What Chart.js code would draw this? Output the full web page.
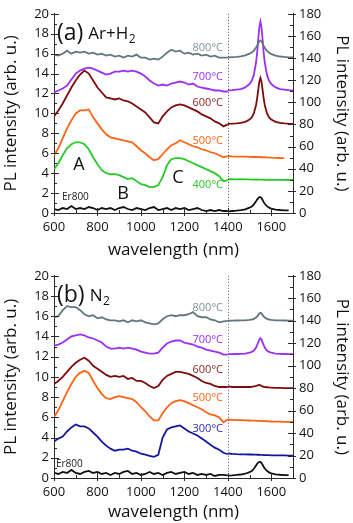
<!DOCTYPE html>
<html lang="en">
<head>
    <meta charset="UTF-8">
    <title>PL spectra Ar+H2 / N2</title>
    <script src="https://cdn.jsdelivr.net/npm/chart.js"></script>
    <style>
        body { margin: 0; background: #fff; }
        canvas { position: absolute; left: 0; }
        #chartA { top: 0; }
        #chartB { top: 262px; }
    </style>
</head>
<body>
    <canvas id="chartA" width="353" height="262"></canvas>
    <canvas id="chartB" width="353" height="261"></canvas>

    <script>
        // wavelengths (nm)
        const wlVis = [600, 620, 640, 660, 680, 700, 720, 740, 760, 780, 800, 820, 840, 860, 880, 900, 920, 940, 960, 980,
            1000, 1020, 1040, 1060, 1080, 1100, 1120, 1140, 1160, 1180, 1200, 1220, 1240, 1260, 1280, 1300, 1320, 1340, 1360, 1380, 1400];
        const wlIR = [1400, 1420, 1440, 1460, 1480, 1500, 1510, 1520, 1530, 1535, 1540, 1545, 1550, 1555, 1560, 1565, 1570,
            1580, 1590, 1600, 1620, 1640, 1660, 1680, 1700];

        const labelsA = ['800°C', '700°C', '600°C', '500°C', '400°C', 'Er800'];
        const labelsB = ['800°C', '700°C', '600°C', '500°C', '300°C', 'Er800'];

        // (a) Ar+H2, visible part (left axis)
        const aVis800 = [15.9, 15.8, 16.0, 16.3, 16.0, 16.2, 16.1, 16.2, 16.0, 16.1, 15.9, 16.0, 15.8, 15.9, 15.7, 15.8, 15.6, 15.8, 15.7, 15.9,
            15.6, 15.6, 15.4, 15.5, 15.4, 15.7, 16.1, 16.4, 16.2, 16.3, 16.0, 16.1, 15.9, 16.0, 15.8, 15.9, 15.7, 15.8, 15.6, 15.6, 15.6];
        const aVis700 = [12.1, 12.3, 12.5, 12.8, 13.4, 14.0, 14.3, 14.5, 14.6, 14.5, 14.3, 14.1, 13.9, 14.0, 14.2, 14.2, 14.3, 14.2, 14.3, 14.2,
            14.0, 13.7, 13.3, 13.0, 12.8, 12.9, 12.8, 13.0, 13.1, 13.2, 13.1, 12.9, 13.0, 12.7, 12.6, 12.5, 12.4, 12.3, 12.3, 12.2, 12.2];
        const aVis600 = [9.7, 10.3, 11.0, 11.8, 12.6, 13.3, 13.9, 14.3, 14.0, 13.3, 12.6, 12.1, 11.6, 11.5, 11.4, 11.5, 11.3, 11.2, 11.0, 10.7,
            10.4, 10.1, 9.6, 9.1, 9.0, 9.7, 10.2, 10.6, 10.8, 10.9, 10.8, 10.6, 10.4, 10.2, 9.9, 9.7, 9.5, 9.2, 9.0, 8.7, 8.9];
        const aVis500 = [5.8, 6.5, 7.5, 8.5, 9.3, 10.0, 10.3, 10.3, 10.4, 9.6, 9.0, 8.4, 7.9, 7.6, 7.5, 7.4, 7.3, 7.2, 7.1, 6.7,
            6.3, 6.0, 5.6, 5.3, 5.4, 5.9, 6.4, 6.8, 7.0, 7.3, 7.1, 6.9, 6.7, 6.6, 6.4, 6.3, 6.1, 6.0, 5.8, 5.6, 5.7];
        const aVis400 = [4.4, 5.0, 5.8, 6.5, 6.9, 7.1, 7.1, 6.9, 6.4, 5.6, 4.9, 4.3, 4.0, 3.9, 3.9, 3.8, 3.6, 3.4, 3.5, 3.2,
            2.9, 2.8, 2.6, 2.6, 2.8, 3.6, 4.8, 5.4, 5.5, 5.5, 5.4, 5.2, 5.0, 4.8, 4.6, 4.4, 4.2, 4.0, 3.7, 3.2, 3.3];
        const aVisEr = [0.4, 0.3, 0.5, 0.4, 0.7, 0.4, 0.5, 0.4, 0.6, 0.5, 0.3, 0.5, 0.4, 0.5, 0.3, 0.5, 0.6, 0.4, 0.3, 0.5,
            0.4, 0.3, 0.5, 0.6, 0.3, 0.4, 0.5, 0.3, 0.5, 0.4, 0.5, 0.3, 0.4, 0.5, 0.3, 0.2, 0.3, 0.2, 0.3, 0.2, 0.2];

        // (a) Ar+H2, infrared part (right axis)
        const aIR800 = [140.5, 140.8, 141, 141.5, 142.5, 144, 145, 146.8, 149.5, 151.3, 153.3, 155.2, 156, 155, 153, 151, 149.2,
            146.5, 144.8, 143.6, 142.2, 141.4, 141, 140.7, 140.5];
        const aIR700 = [110.8, 111, 111.5, 112, 113.5, 116.5, 119.5, 125, 136, 145, 157, 168, 173, 168, 157, 145, 136,
            125, 119.5, 116.5, 113.5, 112, 111.5, 111, 110.8];
        const aIR600 = [80.5, 80.7, 81, 81.4, 82.4, 84.4, 86.4, 90.2, 97.6, 103.6, 111.2, 118.6, 122, 118.6, 111.2, 103.6, 97.6,
            90.2, 86.4, 84.4, 82.4, 81.4, 81, 80.7, 80.5];
        const aIR500 = [51.5, 51.2, 51, 50.9, 51, 50.7, 50.8, 50.6, 50.7, 50.5, 50.6, 50.5, 50.6, 50.4, 50.5, 50.3, 50.4,
            50.2, 50.1, 50, 49.9, 49.7, 49.6, null, null];
        const aIR400 = [30.5, 30.6, 30.4, 30.5, 30.3, 30.4, 30.2, 30.3, 30.2, 30.3, 30.1, 30.2, 30.2, 30.1, 30.2, 30, 30.1,
            30, 30.1, 30, 29.9, 30, 29.9, 29.8, 29.8];
        const aIREr = [1.5, 1.8, 2.1, 2.6, 3.3, 4.8, 5.9, 7.8, 10.6, 12.1, 13.5, 14.3, 14.3, 13.4, 11.8, 9.8, 8.3,
            6.2, 4.8, 4, 3.1, 2.7, 2.4, 2.3, null];

        // (b) N2, visible part (left axis)
        const bVis800 = [15.9, 16.0, 16.6, 17.0, 16.9, 16.9, 16.6, 16.2, 16.0, 16.1, 15.8, 15.9, 15.7, 15.6, 15.6, 15.5, 15.6, 15.4, 15.6, 15.5,
            15.6, 15.4, 15.3, 15.2, 15.3, 15.7, 16.0, 16.1, 16.0, 16.1, 16.1, 16.2, 16.4, 16.0, 15.9, 15.9, 15.7, 15.6, 15.4, 15.5, 15.55];
        const bVis700 = [13.1, 13.2, 13.4, 13.7, 14.0, 14.1, 14.2, 14.1, 13.9, 13.8, 13.6, 13.4, 13.0, 12.8, 12.8, 12.9, 12.8, 12.9, 12.8, 12.7,
            12.5, 12.4, 12.3, 12.3, 12.4, 12.9, 13.3, 13.5, 13.6, 13.6, 13.4, 13.3, 13.2, 13.0, 12.9, 12.7, 12.6, 12.5, 12.4, 12.2, 12.2];
        const bVis600 = [9.3, 9.6, 10.0, 10.5, 11.0, 11.4, 11.7, 11.9, 11.6, 11.1, 10.8, 10.5, 10.2, 10.0, 10.1, 10.0, 10.1, 9.8, 9.9, 9.6,
            9.6, 9.4, 9.1, 8.9, 9.1, 9.7, 10.1, 10.3, 10.5, 10.5, 10.4, 10.3, 10.1, 9.9, 9.6, 9.4, 9.3, 9.1, 9.0, 9.0, 9.0];
        const bVis500 = [6.0, 6.7, 7.6, 8.5, 9.3, 10.0, 10.4, 10.6, 10.4, 9.6, 8.9, 8.3, 7.9, 7.8, 8.0, 8.1, 8.0, 7.9, 7.8, 7.5,
            7.0, 6.6, 6.1, 5.7, 5.7, 6.4, 7.0, 7.4, 7.6, 7.7, 7.6, 7.4, 7.2, 7.0, 6.8, 6.5, 6.3, 6.2, 6.0, 5.5, 5.8];
        const bVis300 = [3.6, 3.9, 4.1, 4.6, 5.0, 5.3, 5.1, 5.1, 4.9, 4.5, 4.1, 3.6, 3.2, 2.9, 2.7, 2.8, 2.8, 2.9, 2.7, 2.6,
            2.4, 2.3, 2.2, 2.1, 2.3, 4.0, 4.8, 5.0, 5.1, 5.2, 4.9, 4.6, 4.4, 4.2, 3.9, 3.6, 3.3, 3.0, 2.8, 2.5, 2.35];
        const bVisEr = [0.5, 0.4, 0.6, 0.5, 0.8, 0.5, 0.4, 0.6, 0.7, 0.5, 0.6, 0.4, 0.5, 0.3, 0.5, 0.4, 0.6, 0.7, 0.4, 0.5,
            0.3, 0.4, 0.6, 0.4, 0.5, 0.3, 0.5, 0.6, 0.4, 0.5, 0.6, 0.4, 0.5, 0.3, 0.4, 0.3, 0.4, 0.2, 0.3, 0.3, 0.25];

        // (b) N2, infrared part (right axis)
        const bIR800 = [140, 140.1, 140.2, 140.3, 140.4, 140.8, 141.1, 141.7, 142.9, 143.9, 145.2, 146.4, 147, 146.4, 145.2, 143.9, 142.9,
            141.7, 141.1, 140.8, 140.4, 140.3, 140.2, 140.1, 140];
        const bIR700 = [110.2, 110.3, 110.4, 110.5, 110.8, 111.5, 112.2, 113.5, 116.1, 118.2, 120.8, 123.3, 124.5, 123.3, 120.8, 118.2, 116.1,
            113.5, 112.2, 111.5, 110.8, 110.5, 110.4, 110.3, 110.2];
        const bIR600 = [81.5, 81, 81, 81, 81, 81, 81.2, 81.5, 82, 82.3, 82.6, 82.8, 82.5, 82, 81.5, 81.2, 81,
            80.8, 80.6, 80.5, 80.3, 80.2, 80, 80, 80];
        const bIR500 = [52, 51.8, 51.6, 51.5, 51.3, 51.2, 51.1, 51, 51, 50.9, 50.9, 50.8, 50.8, 50.7, 50.7, 50.6, 50.6,
            50.5, 50.4, 50.3, 50.2, 50.1, 50, 49.9, 49.8];
        const bIR300 = [21.8, 21.4, 21.2, 21.1, 21, 20.9, 20.9, 20.8, 20.8, 20.7, 20.7, 20.6, 20.6, 20.5, 20.5, 20.4, 20.4,
            20.3, 20.3, 20.2, 20.2, 20.1, 20.1, 20, 20];
        const bIREr = [2.2, 2.4, 2.7, 3.1, 3.8, 5.2, 6.3, 8.2, 11.1, 12.6, 13.7, 14.4, 14.3, 13.3, 11.8, 10, 8.4,
            6.4, 5, 4.1, 3.3, 2.9, 2.6, 2.5, null];

        const xTicks = [600, 800, 1000, 1200, 1400, 1600];

        const FONT = '"Open Sans", "Liberation Sans", sans-serif';
        const AXIS = '#2b2b2b';

        function pts(xs, ys) {
            return xs.map((x, i) => ({ x: x, y: ys[i] }));
        }

        function line(xs, ys, color, axis) {
            return {
                data: pts(xs, ys),
                yAxisID: axis,
                borderColor: color,
                borderWidth: 1.8,
                pointRadius: 0,
                tension: 0,
                fill: false,
                spanGaps: false
            };
        }

        // inward minor/major ticks, dotted 1400 nm marker and text notes
        function decorations(cfg) {
            return {
                id: 'decor',
                afterDraw(chart) {
                    const { ctx, chartArea: a, scales } = chart;
                    const x = scales.x, y = scales.y, y2 = scales.y2;
                    ctx.save();
                    ctx.strokeStyle = AXIS;
                    ctx.lineWidth = 1;
                    ctx.beginPath();
                    for (let v = 600; v < 1700; v += 100) {
                        const px = Math.round(x.getPixelForValue(v)) + 0.5;
                        const major = v % 200 === 0;
                        ctx.moveTo(px, a.bottom + (major ? 3 : 0));
                        ctx.lineTo(px, a.bottom - (major ? 5 : 3));
                    }
                    for (let v = 0; v <= 20; v += 1) {
                        const py = Math.round(y.getPixelForValue(v)) + 0.5;
                        const major = v % 2 === 0;
                        ctx.moveTo(a.left - (major ? 3 : 0), py);
                        ctx.lineTo(a.left + (major ? 5 : 3), py);
                    }
                    for (let v = 0; v <= 180; v += 10) {
                        const py = Math.round(y2.getPixelForValue(v)) + 0.5;
                        const major = v % 20 === 0;
                        ctx.moveTo(a.right + (major ? 3 : 0), py);
                        ctx.lineTo(a.right - (major ? 5 : 3), py);
                    }
                    ctx.stroke();

                    // dotted separator at 1400 nm
                    const dx = Math.round(x.getPixelForValue(1400)) + 0.5;
                    ctx.strokeStyle = cfg.dotColor;
                    ctx.setLineDash([1, 2]);
                    ctx.beginPath();
                    ctx.moveTo(dx, a.top);
                    ctx.lineTo(dx, a.bottom);
                    ctx.stroke();
                    ctx.setLineDash([]);

                    // notes (temperatures, A/B/C, Er800)
                    ctx.textBaseline = 'middle';
                    cfg.notes.forEach(n => {
                        ctx.font = n.size + 'px ' + FONT;
                        ctx.fillStyle = n.color;
                        ctx.textAlign = n.align;
                        ctx.fillText(n.text, x.getPixelForValue(n.x), y.getPixelForValue(n.y));
                    });

                    // panel label like "(a) Ar+H2"
                    let tx = a.left + 3;
                    const ty = a.top + 18;
                    ctx.fillStyle = '#111';
                    ctx.textAlign = 'left';
                    ctx.textBaseline = 'alphabetic';
                    ctx.font = '23px ' + FONT;
                    ctx.fillText(cfg.tag, tx, ty + 8);
                    tx += ctx.measureText(cfg.tag).width + 5;
                    ctx.font = '17px ' + FONT;
                    ctx.fillText(cfg.gas, tx, ty + 7);
                    tx += ctx.measureText(cfg.gas).width + 0.5;
                    ctx.font = '12px ' + FONT;
                    ctx.fillText('2', tx, ty + 11);
                    ctx.restore();
                }
            };
        }

        function makeChart(id, sets, cfg) {
            return new Chart(document.getElementById(id), {
                type: 'line',
                data: { datasets: sets },
                options: {
                    responsive: false,
                    animation: false,
                    events: [],
                    layout: { padding: { top: cfg.top, left: 0, right: 0, bottom: 0 } },
                    plugins: { legend: { display: false }, tooltip: { enabled: false } },
                    scales: {
                        x: {
                            type: 'linear',
                            min: 600,
                            max: 1700,
                            grid: { display: false, drawTicks: false },
                            border: { display: true, color: AXIS, width: 1 },
                            afterBuildTicks: s => { s.ticks = xTicks.map(v => ({ value: v })); },
                            afterFit: s => { s.height = cfg.xHeight; },
                            ticks: { color: '#111', padding: 6, font: { family: FONT, size: 13 }, callback: v => String(v) },
                            title: {
                                display: true,
                                text: 'wavelength (nm)',
                                color: '#111',
                                font: { family: FONT, size: 17 },
                                padding: { top: 0, bottom: cfg.titlePad }
                            }
                        },
                        y: {
                            position: 'left',
                            min: 0,
                            max: 20,
                            grid: { display: false, drawTicks: false },
                            border: { display: true, color: AXIS, width: 1 },
                            afterFit: s => { s.width = 54; },
                            ticks: { stepSize: 2, color: '#111', padding: 5, font: { family: FONT, size: 13 }, callback: v => String(v) },
                            title: {
                                display: true,
                                text: 'PL intensity (arb. u.)',
                                color: '#111',
                                font: { family: FONT, size: 17 },
                                padding: { top: 1, bottom: 0 }
                            }
                        },
                        y2: {
                            position: 'right',
                            min: 0,
                            max: 180,
                            grid: { display: false, drawTicks: false },
                            border: { display: true, color: AXIS, width: 1 },
                            afterFit: s => { s.width = 60; },
                            ticks: { stepSize: 20, color: '#111', padding: 6, font: { family: FONT, size: 13 }, callback: v => String(v) },
                            title: {
                                display: true,
                                text: 'PL intensity (arb. u.)',
                                color: '#111',
                                font: { family: FONT, size: 17 },
                                padding: { top: 1, bottom: 0 }
                            }
                        }
                    }
                },
                plugins: [decorations(cfg)]
            });
        }

        const C800 = '#61777c', C700 = '#9a2ff5', C600 = '#7c0c0c', C500 = '#ff6314', C400 = '#27c927', C300 = '#1515a0', CER = '#111';

        makeChart('chartA', [
            line(wlVis, aVis800, C800, 'y'), line(wlIR, aIR800, C800, 'y2'),
            line(wlVis, aVis700, C700, 'y'), line(wlIR, aIR700, C700, 'y2'),
            line(wlVis, aVis600, C600, 'y'), line(wlIR, aIR600, C600, 'y2'),
            line(wlVis, aVis500, C500, 'y'), line(wlIR, aIR500, C500, 'y2'),
            line(wlVis, aVis400, C400, 'y'), line(wlIR, aIR400, C400, 'y2'),
            line(wlVis, aVisEr, CER, 'y'), line(wlIR, aIREr, CER, 'y2')
        ], {
            top: 7, xHeight: 49, titlePad: 2, dotColor: '#444', tag: '(a)', gas: 'Ar+H',
            notes: [
                { text: labelsA[0], x: 1378, y: 16.6, size: 11, color: '#7f9399', align: 'right' },
                { text: labelsA[1], x: 1378, y: 13.7, size: 11, color: C700, align: 'right' },
                { text: labelsA[2], x: 1378, y: 11.1, size: 11, color: '#8a1c1c', align: 'right' },
                { text: labelsA[3], x: 1378, y: 7.2, size: 11, color: C500, align: 'right' },
                { text: labelsA[4], x: 1378, y: 2.8, size: 11, color: C400, align: 'right' },
                { text: labelsA[5], x: 637, y: 1.55, size: 10, color: '#222', align: 'left' },
                { text: 'A', x: 715, y: 4.85, size: 18, color: '#111', align: 'center' },
                { text: 'B', x: 918, y: 1.94, size: 18, color: '#111', align: 'center' },
                { text: 'C', x: 1170, y: 3.5, size: 18, color: '#111', align: 'center' }
            ]
        });

        makeChart('chartB', [
            line(wlVis, bVis800, C800, 'y'), line(wlIR, bIR800, C800, 'y2'),
            line(wlVis, bVis700, C700, 'y'), line(wlIR, bIR700, C700, 'y2'),
            line(wlVis, bVis600, C600, 'y'), line(wlIR, bIR600, C600, 'y2'),
            line(wlVis, bVis500, C500, 'y'), line(wlIR, bIR500, C500, 'y2'),
            line(wlVis, bVis300, C300, 'y'), line(wlIR, bIR300, C300, 'y2'),
            line(wlVis, bVisEr, CER, 'y'), line(wlIR, bIREr, CER, 'y2')
        ], {
            top: 8, xHeight: 45, titlePad: 1, dotColor: '#4a55b0', tag: '(b)', gas: 'N',
            notes: [
                { text: labelsB[0], x: 1378, y: 16.8, size: 11, color: '#7f9399', align: 'right' },
                { text: labelsB[1], x: 1378, y: 13.65, size: 11, color: C700, align: 'right' },
                { text: labelsB[2], x: 1378, y: 10.7, size: 11, color: '#8a1c1c', align: 'right' },
                { text: labelsB[3], x: 1378, y: 7.9, size: 11, color: C500, align: 'right' },
                { text: labelsB[4], x: 1378, y: 4.9, size: 11, color: '#2a2ab0', align: 'right' },
                { text: labelsB[5], x: 609, y: 1.35, size: 10, color: '#222', align: 'left' }
            ]
        });
    </script>
</body>
</html>
